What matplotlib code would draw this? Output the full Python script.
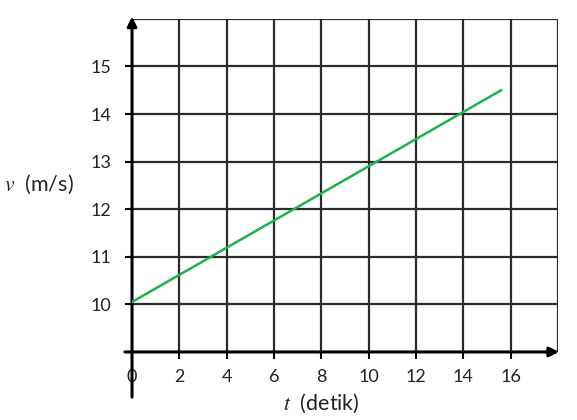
import numpy as np
import matplotlib.pyplot as plt

plt.rcParams['font.family'] = ['Lato', 'DejaVu Sans']
plt.rcParams['mathtext.fontset'] = 'stix'

# line end points (t in s, v in m/s)
t = [0.0, 15.6]
v = [10.05, 14.5]

xticks = [0, 2, 4, 6, 8, 10, 12, 14, 16]
yticks = [10, 11, 12, 13, 14, 15]
xgrid = np.arange(2, 19, 2)
ygrid = np.arange(10, 17, 1)

fig = plt.figure(figsize=(5.77, 4.2), dpi=100)
ax = fig.add_axes([0.2288, 0.162, 0.738, 0.793])
ax.set_xlim(0, 18)
ax.set_ylim(9, 16)

for s in ax.spines.values():
    s.set_visible(False)

gc = "#2b2b2b"
ax.vlines(xgrid, 9, 16, color=gc, lw=1.6, zorder=1)
ax.hlines(ygrid, 0, 18, color=gc, lw=1.6, zorder=1)

# axes with arrows
ax.annotate("", xy=(0, 16.05), xytext=(0, 8.05), annotation_clip=False,
            arrowprops=dict(arrowstyle="-|>", color="black", lw=2.2,
                            mutation_scale=14, shrinkA=0, shrinkB=0))
ax.annotate("", xy=(18.05, 9), xytext=(-0.3, 9), annotation_clip=False,
            arrowprops=dict(arrowstyle="-|>", color="black", lw=2.2,
                            mutation_scale=14, shrinkA=0, shrinkB=0))

ax.plot(t, v, color="#1db34a", lw=1.8, zorder=3)

ax.set_xticks(xticks)
ax.set_yticks(yticks)
ax.tick_params(axis="both", length=5, width=1.5, color="black", labelsize=13,
               labelcolor="#222222")
ax.tick_params(axis="x", pad=7)
ax.tick_params(axis="y", pad=10)

fig.text(0.068, 0.56, r"$v$  (m/s)", fontsize=15.5, ha="center", va="center",
         color="#222222")
fig.text(0.557, 0.04, r"$t$  (detik)", fontsize=15.5, ha="center", va="center",
         color="#222222")

fig.savefig("out.png", dpi=100)
